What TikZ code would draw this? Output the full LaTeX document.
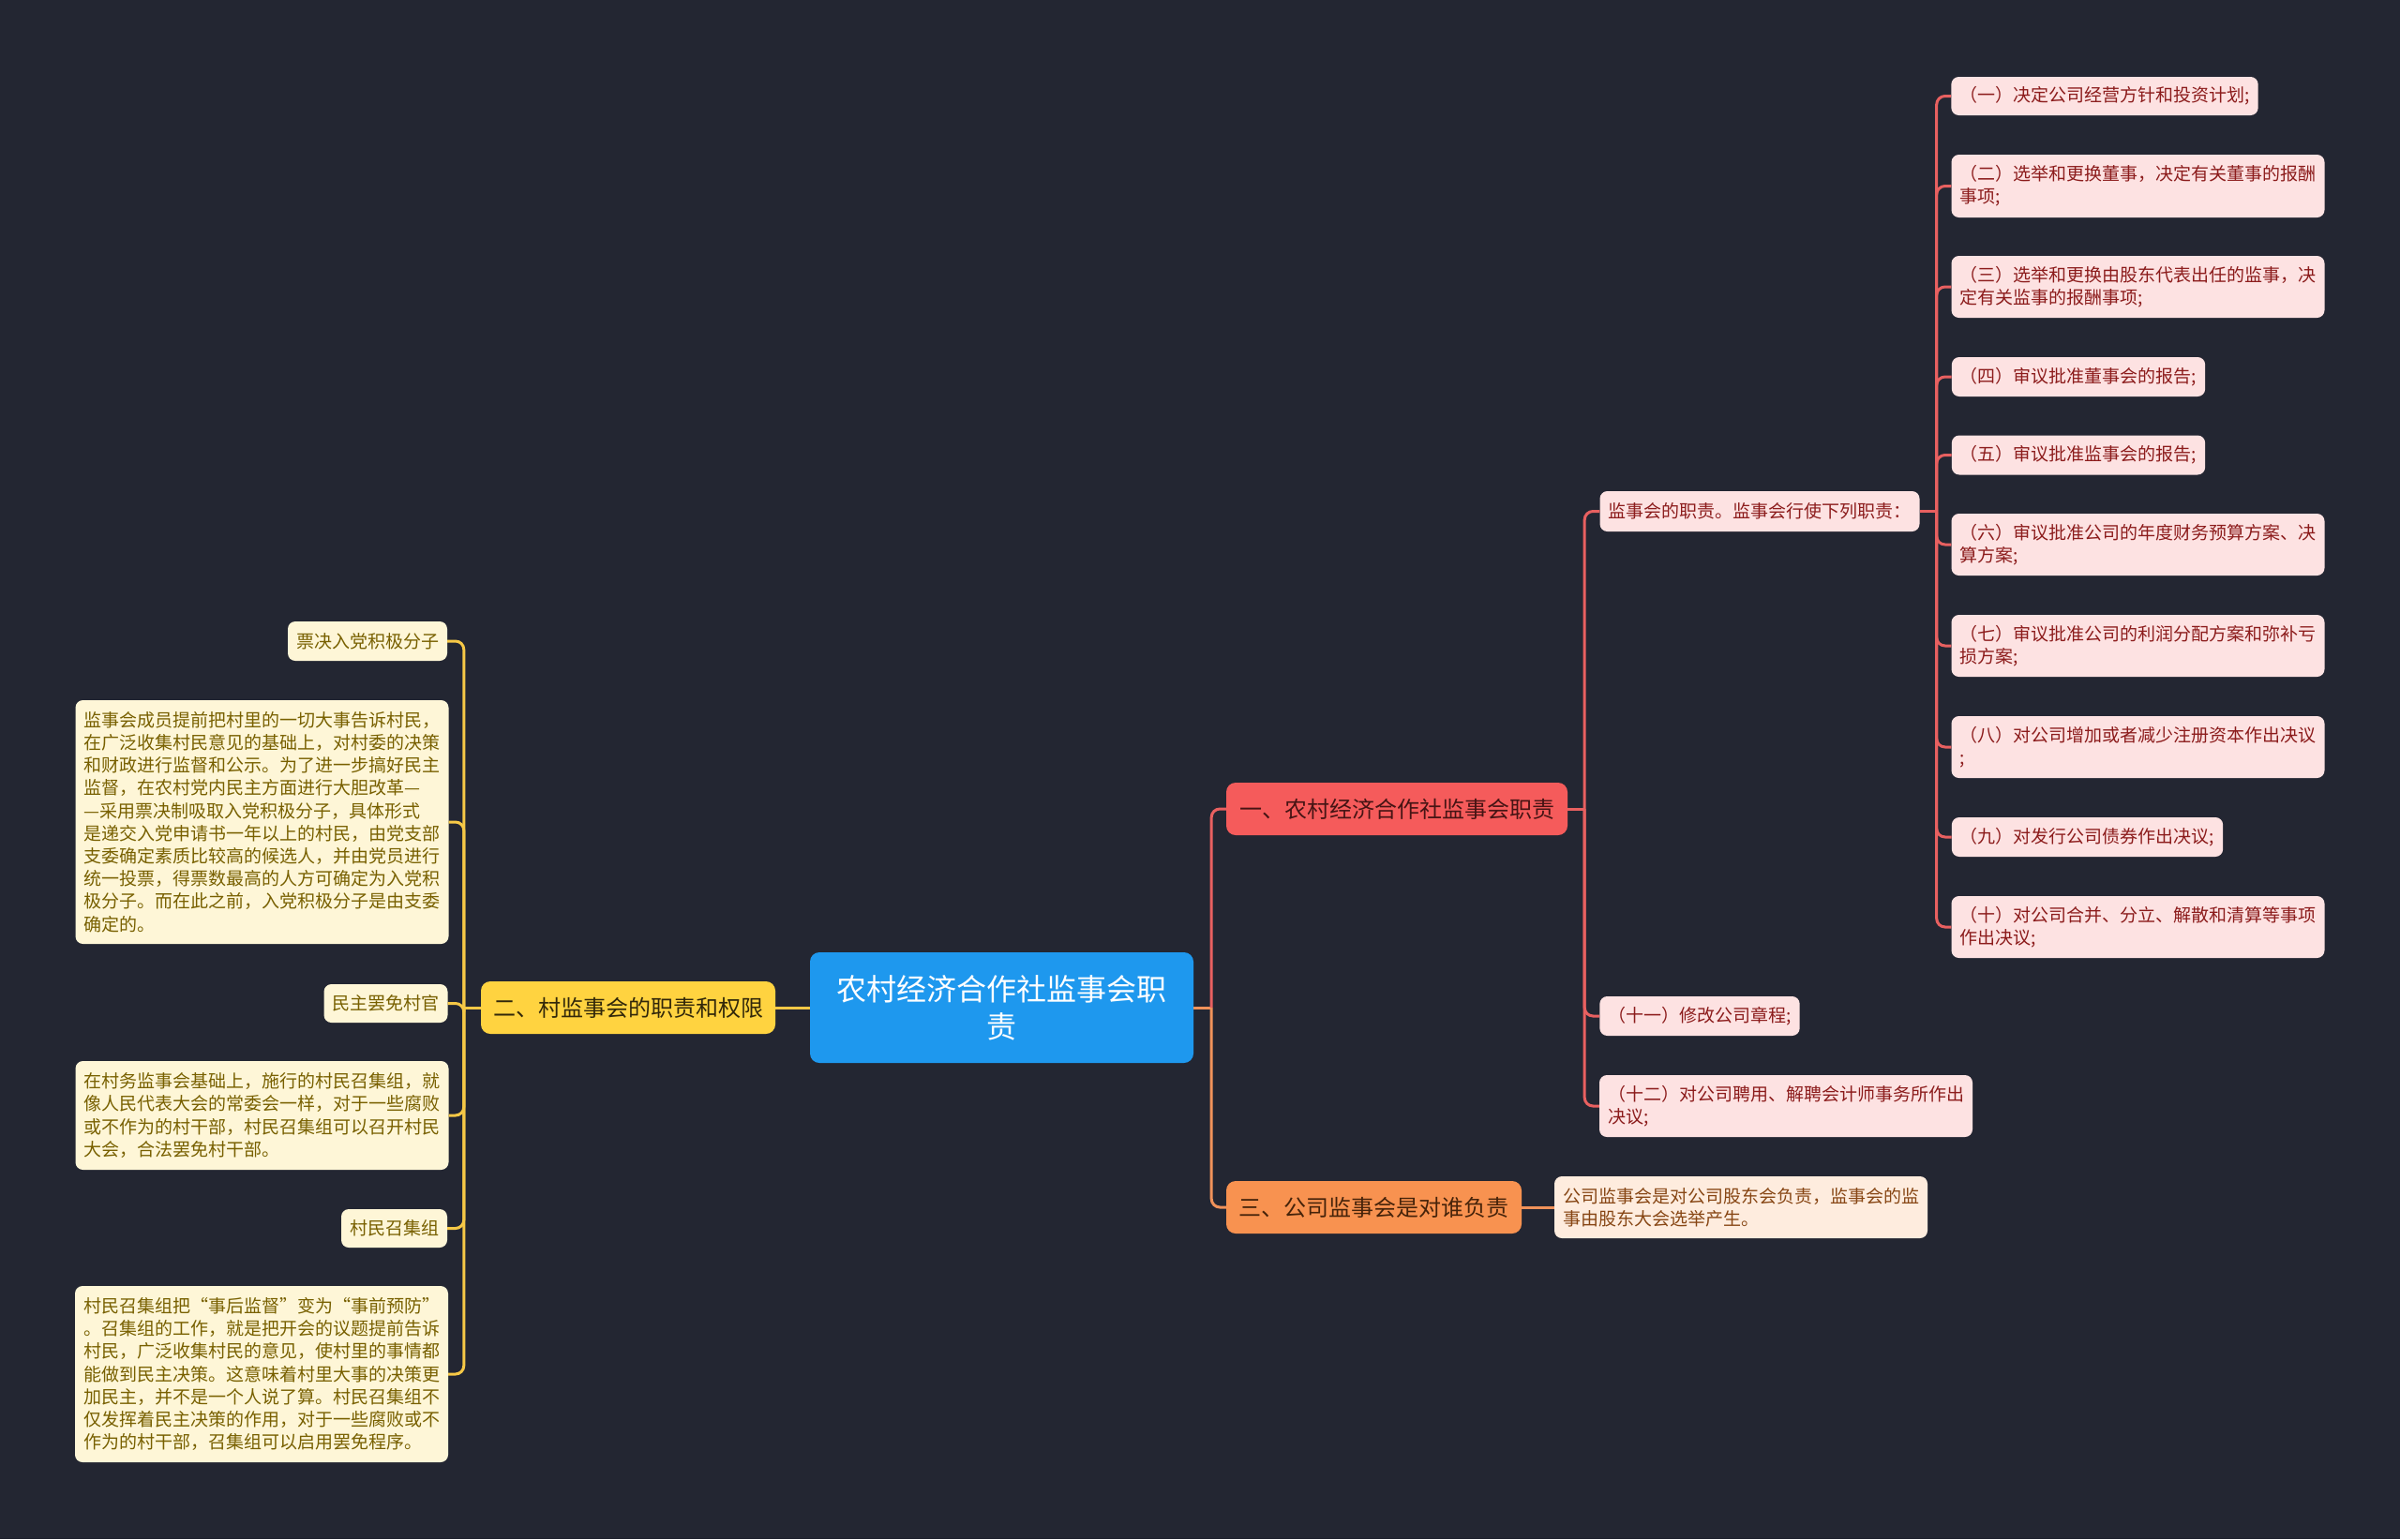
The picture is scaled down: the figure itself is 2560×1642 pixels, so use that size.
\documentclass[tikz,border=0pt]{standalone}
\usepackage{fontspec}
\setmainfont{Noto Sans CJK SC}
\usepackage{tikz}

\definecolor{bgc}{RGB}{35,38,50}
\definecolor{rootc}{RGB}{30,152,238}
\definecolor{redc}{RGB}{245,91,91}
\definecolor{orgc}{RGB}{248,146,80}
\definecolor{ylwc}{RGB}{255,211,64}
\definecolor{pinkbg}{RGB}{253,226,226}
\definecolor{pinkfg}{RGB}{140,28,28}
\definecolor{creambg}{RGB}{254,246,215}
\definecolor{creamfg}{RGB}{120,96,0}
\definecolor{peachbg}{RGB}{254,236,222}
\definecolor{peachfg}{RGB}{135,70,20}
\definecolor{redln}{RGB}{232,96,96}
\definecolor{orgln}{RGB}{240,146,90}
\definecolor{ylwln}{RGB}{246,200,70}

\newcommand{\leaffont}{\fontsize{19}{24.2}\selectfont}
\newcommand{\secfont}{\fontsize{24}{30}\selectfont}

\begin{document}
\begin{tikzpicture}[x=1pt,y=-1pt]
						\fill[bgc] (0,0) rectangle (2560,1642);
						\useasboundingbox (0,0) rectangle (2560,1642);
						
						\node[fill=rootc, text=white, rounded corners=10pt, align=center, minimum width=409pt, minimum height=118pt, font=\fontsize{32}{40}\selectfont] (root) at (1068.5,1075) {农村经济合作社监事会职\\责};
						
						\begin{scope}[every node/.style={rounded corners=10pt, minimum height=56pt, inner xsep=13pt, font=\secfont}]
							\node[fill=redc, text={rgb,255:red,70;green,20;blue,20}, minimum width=364pt] (sec1) at (1490,863) {一、农村经济合作社监事会职责};
							\node[fill=ylwc, text={rgb,255:red,50;green,40;blue,10}, minimum width=314pt] (sec2) at (670,1075) {二、村监事会的职责和权限};
							\node[fill=orgc, text={rgb,255:red,70;green,35;blue,10}, minimum width=315pt] (sec3) at (1465.5,1288) {三、公司监事会是对谁负责};
						\end{scope}
						
						\begin{scope}[every node/.style={rounded corners=8pt, inner xsep=9pt, inner ysep=7pt, align=left, font=\leaffont, fill=pinkbg, text=pinkfg}]
							\node[minimum width=340pt, minimum height=43pt] (core) at (1877,545.5) {监事会的职责。监事会行使下列职责：};
							\node[minimum width=324pt, minimum height=41pt] (d1) at (2245,102.5) {（一）决定公司经营方针和投资计划;};
							\node[minimum width=395pt, minimum height=67pt] (d2) at (2280.5,198.5) {（二）选举和更换董事，决定有关董事的报酬\\事项;};
							\node[minimum width=395pt, minimum height=66pt] (d3) at (2280.5,306) {（三）选举和更换由股东代表出任的监事，决\\定有关监事的报酬事项;};
							\node[minimum width=268pt, minimum height=42pt] (d4) at (2217,402) {（四）审议批准董事会的报告;};
							\node[minimum width=268pt, minimum height=42pt] (d5) at (2217,485.5) {（五）审议批准监事会的报告;};
							\node[minimum width=395pt, minimum height=66pt] (d6) at (2280.5,581) {（六）审议批准公司的年度财务预算方案、决\\算方案;};
							\node[minimum width=395pt, minimum height=66pt] (d7) at (2280.5,689) {（七）审议批准公司的利润分配方案和弥补亏\\损方案;};
							\node[minimum width=395pt, minimum height=66pt] (d8) at (2280.5,797) {（八）对公司增加或者减少注册资本作出决议\\;};
							\node[minimum width=287pt, minimum height=42pt] (d9) at (2226.5,893) {（九）对发行公司债券作出决议;};
							\node[minimum width=395pt, minimum height=66pt] (d10) at (2280.5,989) {（十）对公司合并、分立、解散和清算等事项\\作出决议;};
							\node[minimum width=212pt, minimum height=42pt] (d11) at (1813,1084) {（十一）修改公司章程;};
							\node[minimum width=396pt, minimum height=66pt] (d12) at (1905,1180) {（十二）对公司聘用、解聘会计师事务所作出\\决议;};
							\node[fill=peachbg, text=peachfg, minimum width=396pt, minimum height=66pt] (ans) at (1857,1288) {公司监事会是对公司股东会负责，监事会的监\\事由股东大会选举产生。};
						\end{scope}
						
						\begin{scope}[every node/.style={rounded corners=8pt, inner xsep=9pt, inner ysep=7pt, align=left, font=\leaffont, fill=creambg, text=creamfg}]
							\node[minimum width=170pt, minimum height=42pt] (v1) at (392,684) {票决入党积极分子};
							\node[minimum width=395pt, minimum height=260pt] (v2) at (279.5,877) {监事会成员提前把村里的一切大事告诉村民，\\在广泛收集村民意见的基础上，对村委的决策\\和财政进行监督和公示。为了进一步搞好民主\\监督，在农村党内民主方面进行大胆改革—\\—采用票决制吸取入党积极分子，具体形式\\是递交入党申请书一年以上的村民，由党支部\\支委确定素质比较高的候选人，并由党员进行\\统一投票，得票数最高的人方可确定为入党积\\极分子。而在此之前，入党积极分子是由支委\\确定的。};
							\node[minimum width=131pt, minimum height=41pt] (v3) at (411.5,1070.5) {民主罢免村官};
							\node[minimum width=395pt, minimum height=116pt] (v4) at (279.5,1190) {在村务监事会基础上，施行的村民召集组，就\\像人民代表大会的常委会一样，对于一些腐败\\或不作为的村干部，村民召集组可以召开村民\\大会，合法罢免村干部。};
							\node[minimum width=113pt, minimum height=41pt] (v5) at (420.5,1310.5) {村民召集组};
							\node[minimum width=396pt, minimum height=188pt] (v6) at (279,1466) {村民召集组把“事后监督”变为“事前预防”\\。召集组的工作，就是把开会的议题提前告诉\\村民，广泛收集村民的意见，使村里的事情都\\能做到民主决策。这意味着村里大事的决策更\\加民主，并不是一个人说了算。村民召集组不\\仅发挥着民主决策的作用，对于一些腐败或不\\作为的村干部，召集组可以启用罢免程序。};
						\end{scope}
						
						\begin{scope}[line width=3pt, rounded corners=9pt]
							\path (root.east) ++(19,0) coordinate (jroot);
							\draw[orgln] (root.east) -- (jroot);
							\draw[orgln] (jroot) |- (sec3.west);
							\draw[redln] (jroot) |- (sec1.west);
							\draw[orgln] (sec3.east) -- (ans.west);
							
							\path (sec1.east) ++(18,0) coordinate (jsec1);
							\draw[redln] (sec1.east) -- (jsec1);
							\foreach \n in {core,d11,d12}
								\draw[redln] (jsec1) |- (\n.west);
							
							\path (core.east) ++(18,0) coordinate (jcore);
							\draw[redln] (core.east) -- (jcore);
							\foreach \i in {1,...,10}
								\draw[redln] (jcore) |- (d\i.west);
							
							\draw[ylwln] (root.west) -- (sec2.east);
							\path (sec2.west) ++(-18,0) coordinate (jsec2);
							\draw[ylwln] (sec2.west) -- (jsec2);
							\foreach \i in {1,...,6}
								\draw[ylwln] (jsec2) |- (v\i.east);
						\end{scope}
					\end{tikzpicture}
\end{document}
